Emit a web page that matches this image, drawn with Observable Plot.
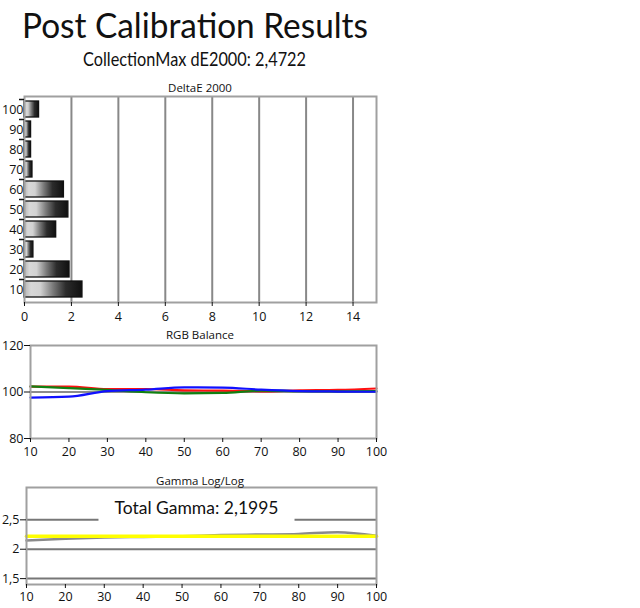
<!DOCTYPE html>
<html><head><meta charset="utf-8">
<script src="https://cdn.jsdelivr.net/npm/d3@7"></script>
<script src="https://cdn.jsdelivr.net/npm/@observablehq/plot@0.6"></script>
<style>
body{margin:0;background:#fff;}
#root{position:relative;width:640px;height:608px;overflow:hidden;background:#fff;}
#root > svg, #root > div{position:absolute;left:0;}
.ptitle{position:absolute;left:0;width:400px;text-align:center;font-family:"Open Sans",sans-serif;font-size:11.5px;color:#111;}
</style></head>
<body><div id="root"></div>
<script>
// ---- data ----
const titleText = "Post Calibration Results";
const subtitleText = "CollectionMax dE2000: 2,4722";
const levels = [10, 20, 30, 40, 50, 60, 70, 80, 90, 100];
const deltaE = [2.47, 1.92, 0.38, 1.35, 1.87, 1.68, 0.34, 0.28, 0.28, 0.62];
const deltaTicks = [0, 2, 4, 6, 8, 10, 12, 14];
const rgbRed   = [102.3, 102.3, 101.2, 101.3, 100.7, 100.6, 100.3, 100.7, 100.9, 101.5];
const rgbGreen = [102.4, 101.7, 100.9, 99.9, 99.4, 99.6, 100.6, 100.4, 100.3, 100.4];
const rgbBlue  = [97.6, 98.0, 100.4, 101.0, 102.0, 101.9, 101.0, 100.4, 100.2, 100.1];
const rgbTicks = [80, 100, 120];
const gammaMeasured = [2.15, 2.18, 2.20, 2.21, 2.22, 2.24, 2.25, 2.26, 2.29, 2.23];
const gammaTarget = [2.2195, 2.2195, 2.2195, 2.2195, 2.2195, 2.2195, 2.2195, 2.2195, 2.2195, 2.2195];
const gammaTicks = [1.5, 2, 2.5];
const gammaLabel = "Total Gamma: 2,1995";

const root = document.getElementById("root");
const tickFont = {fontFamily: "'Open Sans', sans-serif", fontSize: "12px", color: "#111", background: "transparent", overflow: "visible"};
const fs = 12.5;
const frameColor = "#a0a0a0";

// titles
const ts = d3.create("svg").attr("width", 640).attr("height", 80).style("top", "0px");
ts.append("text").attr("x", 22).attr("y", 38).attr("font-family", "Lato, sans-serif").attr("font-size", 34)
  .attr("fill", "#111").attr("textLength", 346).attr("lengthAdjust", "spacingAndGlyphs").text(titleText);
ts.append("text").attr("x", 83).attr("y", 66).attr("font-family", "Lato, sans-serif").attr("font-size", 19)
  .attr("fill", "#111").attr("textLength", 223).attr("lengthAdjust", "spacingAndGlyphs").text(subtitleText);
root.appendChild(ts.node());

function addTitle(text, top, cx) {
  const d = document.createElement("div");
  d.className = "ptitle"; d.textContent = text;
  d.style.top = top + "px"; d.style.left = (cx - 200) + "px";
  root.appendChild(d);
}

// ---- DeltaE bar chart ----
const barRows = levels.map((l, i) => ({level: l, v: deltaE[i]}));
const p1 = Plot.plot({
  width: 640, height: 250, marginTop: 16, marginBottom: 28, marginLeft: 24, marginRight: 264,
  style: tickFont,
  x: {domain: [0, 15], label: null},
  y: {domain: levels.slice().reverse(), padding: 0.2, label: null},
  marks: [
    Plot.ruleX(deltaTicks.slice(1), {stroke: "#888", strokeWidth: 2}),
    Plot.barX(barRows, {x: "v", y: "level", fill: "url(#barGrad)", stroke: "#111", strokeWidth: 1.3}),
    Plot.frame({stroke: frameColor, strokeWidth: 2}),
    Plot.axisX({ticks: deltaTicks, tickSize: 4, tickPadding: 6, stroke: "#111", fontSize: fs}),
    Plot.axisY({tickSize: 0, tickPadding: 1, fontSize: fs}),
    Plot.axisY({tickSize: 5, tickFormat: () => "", dy: -10, stroke: "#111", strokeWidth: 1.5})
  ]
});
p1.style.top = "80px";
const defs = d3.select(p1).insert("defs", ":first-child");
const g = defs.append("linearGradient").attr("id", "barGrad").attr("x1", 0).attr("x2", 1).attr("y1", 0).attr("y2", 0);
[[0, "#b4b4b4"], [0.12, "#d8d8d8"], [0.28, "#d2d2d2"], [0.5, "#7a7a7a"], [0.72, "#2c2c2c"], [1, "#101010"]]
  .forEach(([o, c]) => g.append("stop").attr("offset", o).attr("stop-color", c));
root.appendChild(p1);
addTitle("DeltaE 2000", 80, 200);

// ---- RGB Balance ----
const rgbRows = [];
levels.forEach((l, i) => {
  rgbRows.push({level: l, v: rgbRed[i], c: "red"});
  rgbRows.push({level: l, v: rgbGreen[i], c: "green"});
  rgbRows.push({level: l, v: rgbBlue[i], c: "blue"});
});
const p2 = Plot.plot({
  width: 640, height: 133, marginTop: 15, marginBottom: 25, marginLeft: 30, marginRight: 264,
  style: tickFont,
  x: {domain: [10, 100], label: null},
  y: {domain: [80, 120], label: null},
  marks: [
    Plot.ruleY([100], {stroke: "#8c8c8c", strokeWidth: 2}),
    Plot.line(rgbRows.filter(d => d.c === "red"), {x: "level", y: "v", stroke: "#ff1010", strokeWidth: 2.2, curve: "monotone-x"}),
    Plot.line(rgbRows.filter(d => d.c === "green"), {x: "level", y: "v", stroke: "#108010", strokeWidth: 2.2, curve: "monotone-x"}),
    Plot.line(rgbRows.filter(d => d.c === "blue"), {x: "level", y: "v", stroke: "#1010ff", strokeWidth: 2.2, curve: "monotone-x"}),
    Plot.frame({stroke: frameColor, strokeWidth: 2}),
    Plot.axisX({ticks: levels, tickSize: 4, tickPadding: 5, stroke: "#111", fontSize: fs}),
    Plot.axisY({ticks: rgbTicks, tickSize: 6, tickPadding: 1, stroke: "#111", fontSize: fs})
  ]
});
p2.style.top = "330px";
root.appendChild(p2);
addTitle("RGB Balance", 327, 200);

// ---- Gamma ----
const gRows = levels.map((l, i) => ({level: l, m: gammaMeasured[i], t: gammaTarget[i]}));
const p3 = Plot.plot({
  width: 640, height: 138, marginTop: 17, marginBottom: 24, marginLeft: 26, marginRight: 264,
  style: tickFont,
  x: {domain: [10, 100], label: null},
  y: {domain: [1.4, 3.05], label: null},
  marks: [
    Plot.ruleY(gammaTicks, {stroke: "#777", strokeWidth: 2}),
    Plot.line(gRows, {x: "level", y: "m", stroke: "#8a8a8a", strokeWidth: 2.5, curve: "monotone-x"}),
    Plot.line(gRows, {x: "level", y: "t", stroke: "#ffff00", strokeWidth: 3.5}),
    Plot.text([gammaLabel], {frameAnchor: "top", dy: 21, dx: -5, lineAnchor: "middle", fontSize: 17.5, fontFamily: "Lato, sans-serif", fill: "#111", className: "gtext"}),
    Plot.frame({stroke: frameColor, strokeWidth: 2}),
    Plot.axisX({ticks: levels, tickSize: 4, tickPadding: 4, stroke: "#111", fontSize: fs}),
    Plot.axisY({ticks: gammaTicks, tickSize: 6, tickPadding: 1, stroke: "#111", fontSize: fs, tickFormat: d => String(d).replace(".", ",")})
  ]
});
p3.style.top = "470px";
root.appendChild(p3);
addTitle("Gamma Log/Log", 473, 200);
// white box behind annotation
const tEl = p3.querySelector(".gtext text") || p3.querySelector("g[aria-label='text'] text");
if (tEl) {
  const bb = tEl.getBBox();
  const parent = tEl.parentNode;
  const r = document.createElementNS("http://www.w3.org/2000/svg", "rect");
  const tr = tEl.getAttribute("transform");
  if (tr) r.setAttribute("transform", tr);
  r.setAttribute("x", bb.x - 16); r.setAttribute("y", bb.y - 2);
  r.setAttribute("width", bb.width + 32); r.setAttribute("height", bb.height + 5);
  r.setAttribute("fill", "#fff");
  parent.insertBefore(r, tEl);
}
</script></body></html>
